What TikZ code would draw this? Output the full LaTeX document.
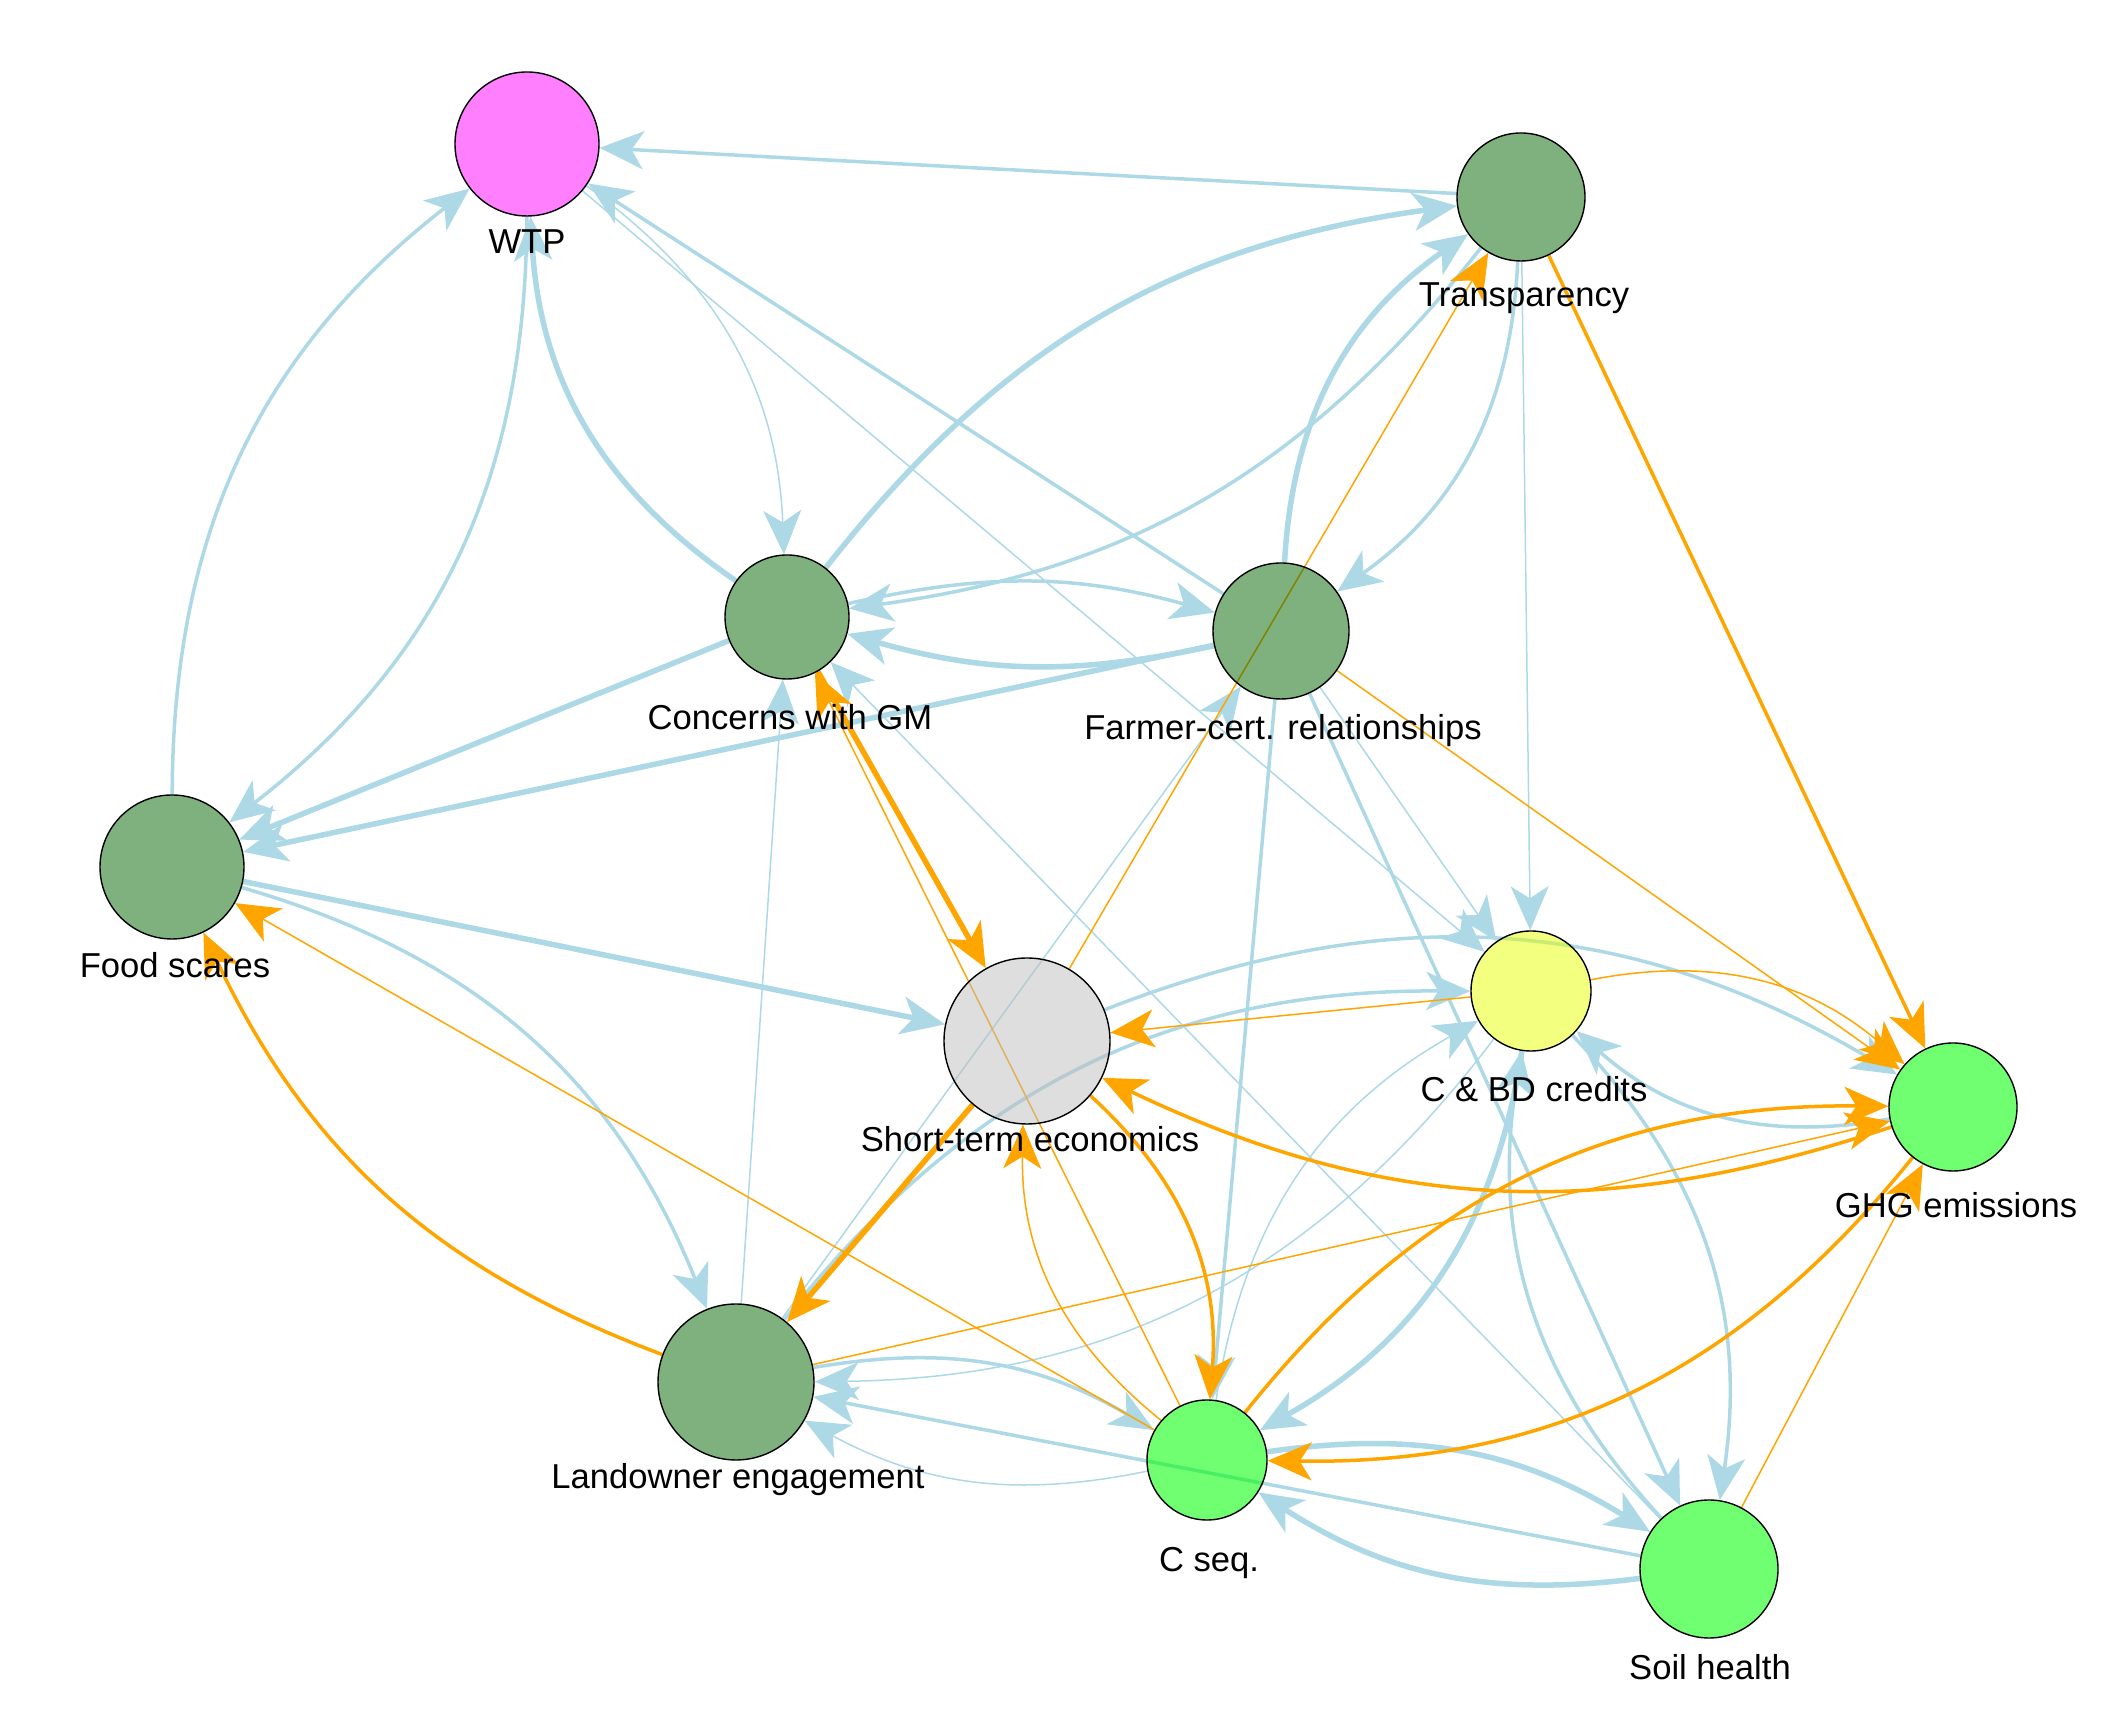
\documentclass[tikz,border=0pt]{standalone}
\usepackage{fontspec}
\setmainfont{Liberation Sans}
\usetikzlibrary{arrows.meta}
\pgfdeclarelayer{background}
\pgfsetlayers{background,main}
\definecolor{lblue}{HTML}{ADD8E6}
\definecolor{orng}{HTML}{FFA500}
\definecolor{cmag}{RGB}{255,0,255}
\definecolor{cdg}{RGB}{0,100,0}
\definecolor{cgr}{RGB}{0,255,0}
\definecolor{cyel}{RGB}{229,255,0}
\definecolor{cgray}{RGB}{190,190,190}
\begin{document}
\begin{tikzpicture}[x=0.5pt,y=0.5pt,
  vtx/.style={circle,draw=black,line width=0.7pt,inner sep=0pt,fill opacity=0.5},
  lgreen/.style={vtx,fill=cgr,fill opacity=0.56},
  lab/.style={anchor=base,inner sep=0pt,font=\fontsize{17.3pt}{20pt}\selectfont},
  lb/.style={draw=lblue},
  og/.style={draw=orng},
  ethin/.style={line width=0.75pt},
  emed/.style={line width=1.75pt},
  ethick/.style={line width=2.75pt},
  arr/.style={-{Stealth[length=22pt,width=19pt,inset=6pt]}},
  bnd/.style={bend left=26},
  bndlow/.style={bend left=14}]
\useasboundingbox (0,0) rectangle (2126,1713);
% vertices
\node[vtx,fill=cmag,minimum size=72pt] (wtp) at (527,1569) {};
\node[vtx,fill=cdg,minimum size=64pt] (trans) at (1521,1516) {};
\node[vtx,fill=cdg,minimum size=68pt] (farm) at (1281,1082) {};
\node[vtx,fill=cdg,minimum size=62pt] (conc) at (787,1096) {};
\node[vtx,fill=cdg,minimum size=72pt] (food) at (172,846) {};
\node[vtx,fill=cgray,minimum size=83pt] (ste) at (1027,672) {};
\node[vtx,fill=cdg,minimum size=78pt] (land) at (736,331) {};
\node[vtx,fill=cyel,minimum size=60pt] (cbd) at (1531,722) {};
\node[lgreen,minimum size=64pt] (ghg) at (1953,606) {};
\node[lgreen,minimum size=60pt] (cseq) at (1207,253) {};
\node[lgreen,minimum size=69pt] (soil) at (1709,144) {};
% labels
\node[lab] (lwtp) at (527,1459) {WTP};
\node[lab] (ltrans) at (1524,1406) {Transparency};
\node[lab] (lfarm) at (1283,973) {Farmer-cert. relationships};
\node[lab] (lconc) at (790,983) {Concerns with GM};
\node[lab] (lfood) at (175,735) {Food scares};
\node[lab] (lste) at (1030,561) {Short-term economics};
\node[lab] (lland) at (738,224) {Landowner engagement};
\node[lab] (lcbd) at (1534,611) {C \& BD credits};
\node[lab] (lghg) at (1956,495) {GHG emissions};
\node[lab] (lcseq) at (1209,141) {C seq.};
\node[lab] (lsoil) at (1710,33) {Soil health};
% edges
\begin{pgfonlayer}{background}
\draw[lb,emed,arr] (trans) -- (wtp);
\draw[lb,emed,arr] (farm) -- (wtp);
\draw[lb,ethin,arr] (wtp) -- (cbd);
\draw[lb,ethin,arr] (wtp) to[bnd] (conc);
\draw[lb,ethick,arr] (conc) to[bnd] (wtp);
\draw[lb,emed,arr] (food) to[bnd] (wtp);
\draw[lb,emed,arr] (wtp) to[bnd] (food);
\draw[lb,ethick,arr] (conc) to[bend left=22] (trans);
\draw[lb,emed,arr] (trans) to[bend left=22] (conc);
\draw[lb,ethick,arr] (farm) to[bnd] (trans);
\draw[lb,emed,arr] (trans) to[bnd] (farm);
\draw[lb,ethin,arr] (trans) -- (cbd);
\draw[lb,ethick,arr] (farm) to[bndlow] (conc);
\draw[lb,emed,arr] (conc) to[bndlow] (farm);
\draw[lb,ethick,arr] (farm) -- (food);
\draw[lb,ethick,arr] (conc) -- (food);
\draw[lb,ethick,arr] (food) -- (ste);
\draw[lb,emed,arr] (food) to[bnd] (land);
\draw[lb,ethin,arr] (land) -- (conc);
\draw[lb,ethin,arr] (land) -- (farm);
\draw[lb,ethin,arr] (farm) -- (cbd);
\draw[lb,emed,arr] (farm) -- (cseq);
\draw[lb,emed,arr] (farm) -- (soil);
\draw[lb,ethin,arr] (soil) -- (conc);
\draw[lb,emed,arr] (land) to[bnd] (cbd);
\draw[lb,ethin,arr] (cbd) to[bnd] (land);
\draw[lb,emed,arr] (ste) to[bnd] (ghg);
\draw[lb,emed,arr] (ghg) to[bnd] (cbd);
\draw[lb,ethick,arr] (cbd) to[bnd] (cseq);
\draw[lb,ethin,arr] (cseq) to[bnd] (cbd);
\draw[lb,emed,arr] (cbd) to[bnd] (soil);
\draw[lb,emed,arr] (soil) to[bnd] (cbd);
\draw[lb,emed,arr] (land) to[bend left=20] (cseq);
\draw[lb,ethin,arr] (cseq) to[bend left=20] (land);
\draw[lb,emed,arr] (soil) -- (land);
\draw[lb,ethick,arr] (cseq) to[bend left=20] (soil);
\draw[lb,ethick,arr] (soil) to[bend left=20] (cseq);
% orange
\draw[og,emed,arr] (trans) -- (ghg);
\draw[og,ethin,arr] (farm) -- (ghg);
\draw[og,ethin,arr] (ste) -- (trans);
\draw[og,ethick,arr] (conc) -- (ste);
\draw[og,ethin,arr] (cseq) -- (conc);
\draw[og,emed,arr] (land) to[bend left=22] (food);
\draw[og,ethin,arr] (cseq) -- (food);
\draw[og,ethick,arr] (ste) -- (land);
\draw[og,ethin,arr] (land) -- (ghg);
\draw[og,ethin,arr] (cbd) -- (ste);
\draw[og,emed,arr] (ghg) to[bend left=22] (ste);
\draw[og,ethin,arr] (cbd) to[bnd] (ghg);
\draw[og,emed,arr] (ste) to[bnd] (cseq);
\draw[og,ethin,arr] (cseq) to[bnd] (ste);
\draw[og,emed,arr] (cseq) to[bnd] (ghg);
\draw[og,emed,arr] (ghg) to[bnd] (cseq);
\draw[og,ethin,arr] (soil) -- (ghg);
\end{pgfonlayer}
\end{tikzpicture}
\end{document}
